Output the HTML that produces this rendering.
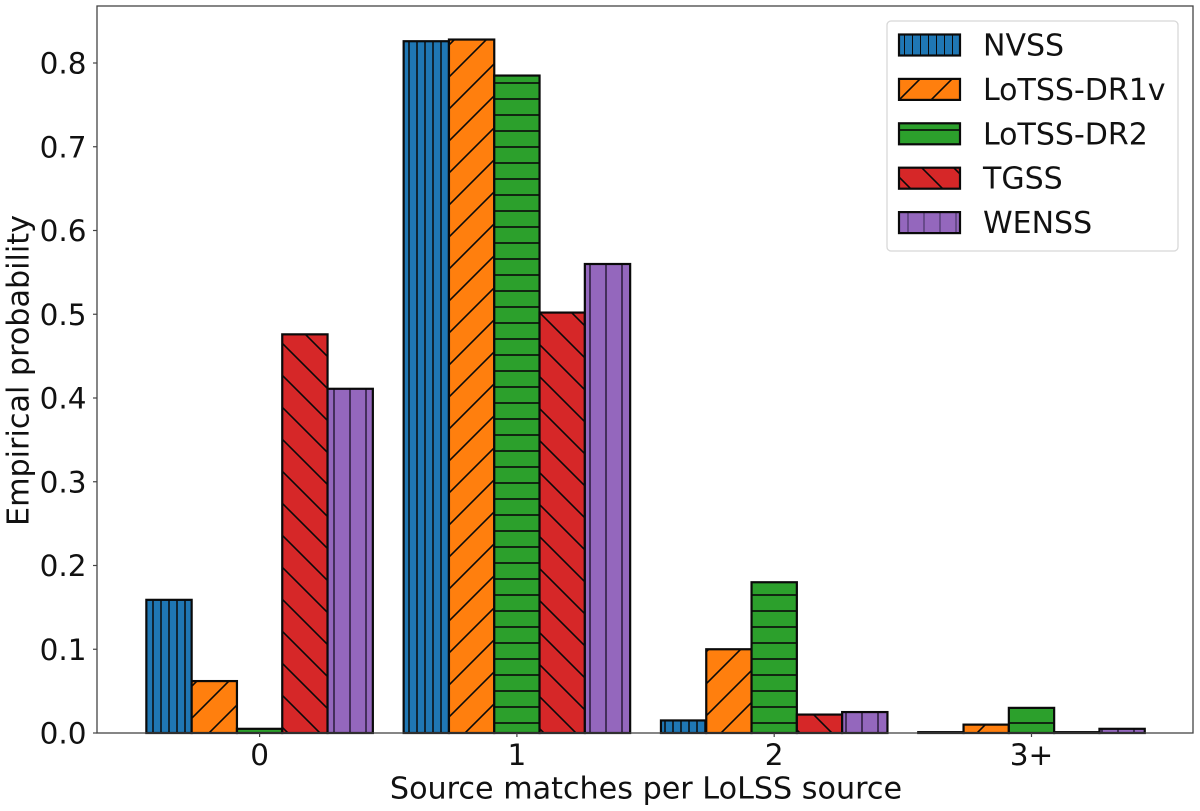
<!DOCTYPE html>
<html>
<head>
<meta charset="utf-8">
<style>
html,body{margin:0;padding:0;background:#fff;}
svg{display:block;filter:blur(0.35px);}
text{font-family:"DejaVu Sans","Liberation Sans",sans-serif;fill:#111;}
</style>
</head>
<body>
<svg id="chart" xmlns="http://www.w3.org/2000/svg" width="1200" height="811" viewBox="0 0 1200 811">
<defs>
<pattern id="h0" patternUnits="userSpaceOnUse" width="8" height="8"><line x1="1" y1="0" x2="1" y2="8" stroke="#0a0a0a" stroke-width="1.5"/></pattern>
<pattern id="h1" patternUnits="userSpaceOnUse" width="32" height="32"><path d="M16,-2L-2,16M34,12L12,34" stroke="#0a0a0a" stroke-width="1.6" fill="none"/></pattern>
<pattern id="h2" patternUnits="userSpaceOnUse" width="16" height="16"><line x1="0" y1="3" x2="16" y2="3" stroke="#0a0a0a" stroke-width="1.6"/></pattern>
<pattern id="h3" patternUnits="userSpaceOnUse" width="32" height="32"><path d="M1,-2L34,31M-2,27L7,36" stroke="#0a0a0a" stroke-width="1.6" fill="none"/></pattern>
<pattern id="h4" patternUnits="userSpaceOnUse" width="16" height="16"><line x1="14" y1="0" x2="14" y2="16" stroke="#2a1a3a" stroke-width="1.5"/></pattern>
<pattern id="l0" patternUnits="userSpaceOnUse" width="8" height="8"><line x1="0" y1="0" x2="0" y2="8" stroke="#0a0a0a" stroke-width="2"/></pattern>
<pattern id="l1" patternUnits="userSpaceOnUse" width="32" height="32"><path d="M9,-2L-2,9M34,5L5,34" stroke="#0a0a0a" stroke-width="1.6" fill="none"/></pattern>
<pattern id="l2" patternUnits="userSpaceOnUse" width="16" height="16"><line x1="0" y1="2" x2="16" y2="2" stroke="#0a0a0a" stroke-width="1.6"/></pattern>
<pattern id="l3" patternUnits="userSpaceOnUse" width="32" height="32"><path d="M16,-2L34,16M-2,12L20,34" stroke="#0a0a0a" stroke-width="1.6" fill="none"/></pattern>
<pattern id="l4" patternUnits="userSpaceOnUse" width="16" height="16"><line x1="12" y1="0" x2="12" y2="16" stroke="#5a3f7a" stroke-width="1.5"/></pattern>
</defs>
</svg>
<script>
const categories = ["0", "1", "2", "3+"];
const seriesNames = ["NVSS", "LoTSS-DR1v", "LoTSS-DR2", "TGSS", "WENSS"];
const nvssValues = [0.159, 0.826, 0.015, 0.001];
const dr1vValues = [0.062, 0.828, 0.100, 0.010];
const dr2Values = [0.005, 0.785, 0.180, 0.030];
const tgssValues = [0.476, 0.502, 0.022, 0.001];
const wenssValues = [0.411, 0.560, 0.025, 0.005];
const yTicks = [0, 0.1, 0.2, 0.3, 0.4, 0.5, 0.6, 0.7, 0.8];

const allSeries = [nvssValues, dr1vValues, dr2Values, tgssValues, wenssValues];
const colors = ["#1f77b4", "#ff7f0e", "#2ca02c", "#d62728", "#9467bd"];
const NS = "http://www.w3.org/2000/svg";
const svg = document.getElementById("chart");
const axL = 97, axR = 1193, axT = 6, axB = 733;
const barW = 45.3;
function xScale(i) { return 259.6 + 257.3 * i; }
function yScale(v) { return axB - 837.5 * v; }
function mk(tag, attrs, parent) {
  const el = document.createElementNS(NS, tag);
  for (const k in attrs) el.setAttribute(k, attrs[k]);
  (parent || svg).appendChild(el);
  return el;
}
function slug(s) { return s.toLowerCase().replace(/[^a-z0-9]+/g, "-"); }

const barsLayer = mk("g", {});


allSeries.forEach(function (vals, s) {
  const serG = mk("g", {}, barsLayer);
  
  
  vals.forEach(function (v, c) {
    const x = xScale(c) + (s - 2.5) * barW;
    const y = yScale(v);
    const h = axB - y;
    const g = mk("g", {}, serG);
    
    
    mk("rect", { x: x, y: y, width: barW, height: h, fill: colors[s] }, g);
    mk("rect", { x: x, y: y, width: barW, height: h, fill: "url(#h" + s + ")" }, g);
    mk("rect", { x: x, y: y, width: barW, height: h, fill: "none", stroke: "#0a0a0a", "stroke-width": 2.2 }, g);
  });
});

const axes = mk("g", {});


const frame = mk("rect", { x: axL, y: axT, width: axR - axL, height: axB - axT, fill: "none", stroke: "#444", "stroke-width": 1.3 }, axes);



yTicks.forEach(function (t) {
  const y = yScale(t);
  mk("line", { x1: axL - 4, x2: axL, y1: y, y2: y, stroke: "#444", "stroke-width": 1.2 }, axes);
  const lab = mk("text", { x: 86.5, y: y + 10.5, "text-anchor": "end", "font-size": 29.5 }, axes);
  lab.textContent = t.toFixed(1);
  
  
});
categories.forEach(function (cat, i) {
  const x = xScale(i);
  mk("line", { x1: x, x2: x, y1: axB, y2: axB + 4, stroke: "#444", "stroke-width": 1.2 }, axes);
  const lab = mk("text", { x: x, y: 765, "text-anchor": "middle", "font-size": 29.5 }, axes);
  lab.textContent = cat;
  
  
});

const xTitle = mk("text", { x: 646, y: 798.5, "text-anchor": "middle", "font-size": 30.2 });
xTitle.textContent = "Source matches per LoLSS source";



const yTitle = mk("text", { transform: "translate(28.5,370.5) rotate(-90)", "text-anchor": "middle", "font-size": 30.2 });
yTitle.textContent = "Empirical probability";



const legend = mk("g", {});


mk("rect", { x: 887, y: 21, width: 291, height: 230, rx: 4, fill: "#fff", "fill-opacity": 0.8, stroke: "#d8d8d8", "stroke-width": 1.3 }, legend);
seriesNames.forEach(function (name, s) {
  const y = 34.5 + 44.4 * s;
  const g = mk("g", {}, legend);
  
  
  mk("rect", { x: 899, y: y, width: 61, height: 21, fill: colors[s] }, g);
  mk("rect", { x: 899, y: y, width: 61, height: 21, fill: "url(#l" + s + ")" }, g);
  mk("rect", { x: 899, y: y, width: 61, height: 21, fill: "none", stroke: "#0a0a0a", "stroke-width": 2.2 }, g);
  const lab = mk("text", { x: 983, y: y + 21, "font-size": 30 }, g);
  lab.textContent = name;
});
</script>
</body>
</html>
